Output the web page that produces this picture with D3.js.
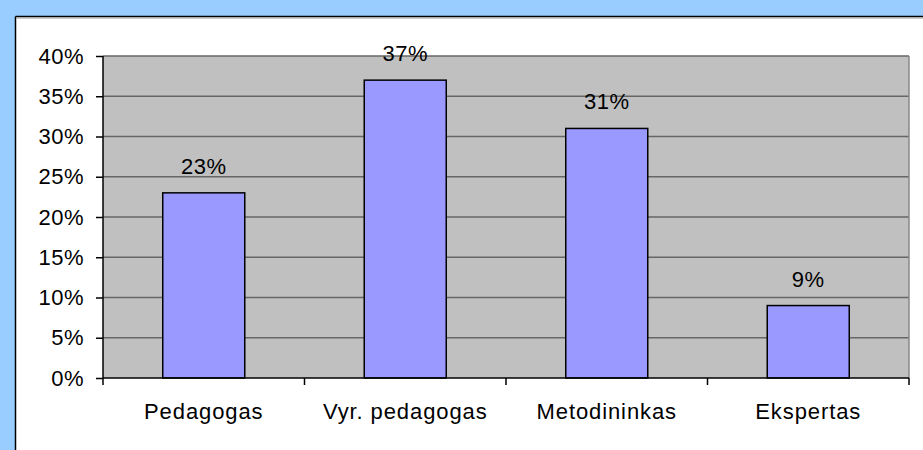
<!DOCTYPE html>
<html>
<head>
<meta charset="utf-8">
<script src="https://cdn.jsdelivr.net/npm/d3@7"></script>
<style>
  html, body { margin: 0; padding: 0; background: #fff; }
  svg { display: block; }
  text { font-family: "Liberation Sans", Arial, sans-serif; fill: #000; }
</style>
</head>
<body>
<svg id="chart" width="923" height="450"></svg>
<script>
const categories = ["Pedagogas", "Vyr. pedagogas", "Metodininkas", "Ekspertas"];
const values = [0.23, 0.37, 0.31, 0.09];
const yTicks = [0, 0.05, 0.10, 0.15, 0.20, 0.25, 0.30, 0.35, 0.40];

const W = 923, H = 450;
const plot = { left: 103, top: 56, right: 909, bottom: 378 };
const svg = d3.select("#chart");

// outer frame
svg.append("rect").attr("x", 0).attr("y", 0).attr("width", W).attr("height", H).attr("fill", "#99CCFF");
svg.append("rect").attr("x", 16).attr("y", 17).attr("width", W - 16).attr("height", H - 17).attr("fill", "#fff");
svg.append("line").attr("x1", 15.5).attr("y1", 16.5).attr("x2", 15.5).attr("y2", H).attr("stroke", "#000").attr("stroke-width", 1.5);
svg.append("line").attr("x1", 15.5).attr("y1", 16.5).attr("x2", W).attr("y2", 16.5).attr("stroke", "#000").attr("stroke-width", 1.5);
svg.append("line").attr("x1", 16).attr("y1", 18).attr("x2", W).attr("y2", 18).attr("stroke", "#999").attr("stroke-width", 1);

const x = d3.scaleBand().domain(categories).range([plot.left, plot.right]).paddingInner(0.593).paddingOuter(0.2965);
const y = d3.scaleLinear().domain([0, 0.40]).range([plot.bottom, plot.top]);

// plot area
svg.append("rect").attr("x", plot.left).attr("y", plot.top)
  .attr("width", plot.right - plot.left).attr("height", plot.bottom - plot.top)
  .attr("fill", "#C0C0C0");

// gridlines
svg.append("g").selectAll("line").data(yTicks.filter(d => d > 0)).join("line")
  .attr("x1", plot.left).attr("x2", plot.right)
  .attr("y1", d => y(d)).attr("y2", d => y(d))
  .attr("stroke", "#666").attr("stroke-width", 1.5);

// plot right border
svg.append("line").attr("x1", plot.right).attr("x2", plot.right).attr("y1", plot.top).attr("y2", plot.bottom)
  .attr("stroke", "#888").attr("stroke-width", 1.5);

// bars
svg.append("g").selectAll("rect").data(values).join("rect")
  .attr("x", (d, i) => x(categories[i]))
  .attr("y", d => y(d))
  .attr("width", x.bandwidth())
  .attr("height", d => y(0) - y(d))
  .attr("fill", "#9999FF").attr("stroke", "#000").attr("stroke-width", 1.5);

// value labels
svg.append("g").selectAll("text").data(values).join("text")
  .attr("x", (d, i) => x(categories[i]) + x.bandwidth() / 2)
  .attr("y", d => y(d) - 19)
  .attr("text-anchor", "middle")
  .style("font-size", "22px")
  .style("letter-spacing", "0.5px")
  .text(d => Math.round(d * 100) + "%");

// y axis
const yAxis = d3.axisLeft(y).tickValues(yTicks).tickFormat(d3.format(".0%")).tickSize(7).tickPadding(12);
const gy = svg.append("g").attr("transform", `translate(${plot.left},0)`).call(yAxis);
gy.select(".domain").attr("stroke", "#000").attr("stroke-width", 1.5).attr("d", `M0,${plot.top}V${plot.bottom}`);
gy.selectAll(".tick line").attr("stroke", "#000").attr("stroke-width", 1.5);
gy.selectAll(".tick text").style("font-size", "22px").style("letter-spacing", "0.5px")
  .style("font-family", "'Liberation Sans', Arial, sans-serif").attr("fill", "#000");

// x axis
const step = x.step();
const boundaries = d3.range(categories.length + 1).map(i => plot.left + i * step);
svg.append("line").attr("x1", plot.left).attr("x2", plot.right).attr("y1", plot.bottom).attr("y2", plot.bottom)
  .attr("stroke", "#000").attr("stroke-width", 1.5);
svg.append("g").selectAll("line").data(boundaries).join("line")
  .attr("x1", d => d).attr("x2", d => d).attr("y1", plot.bottom).attr("y2", plot.bottom + 7)
  .attr("stroke", "#000").attr("stroke-width", 1.5);
svg.append("g").selectAll("text").data(categories).join("text")
  .attr("x", d => x(d) + x.bandwidth() / 2)
  .attr("y", 419)
  .attr("text-anchor", "middle")
  .style("font-size", "22px")
  .style("letter-spacing", "0.9px")
  .text(d => d);
</script>
</body>
</html>
